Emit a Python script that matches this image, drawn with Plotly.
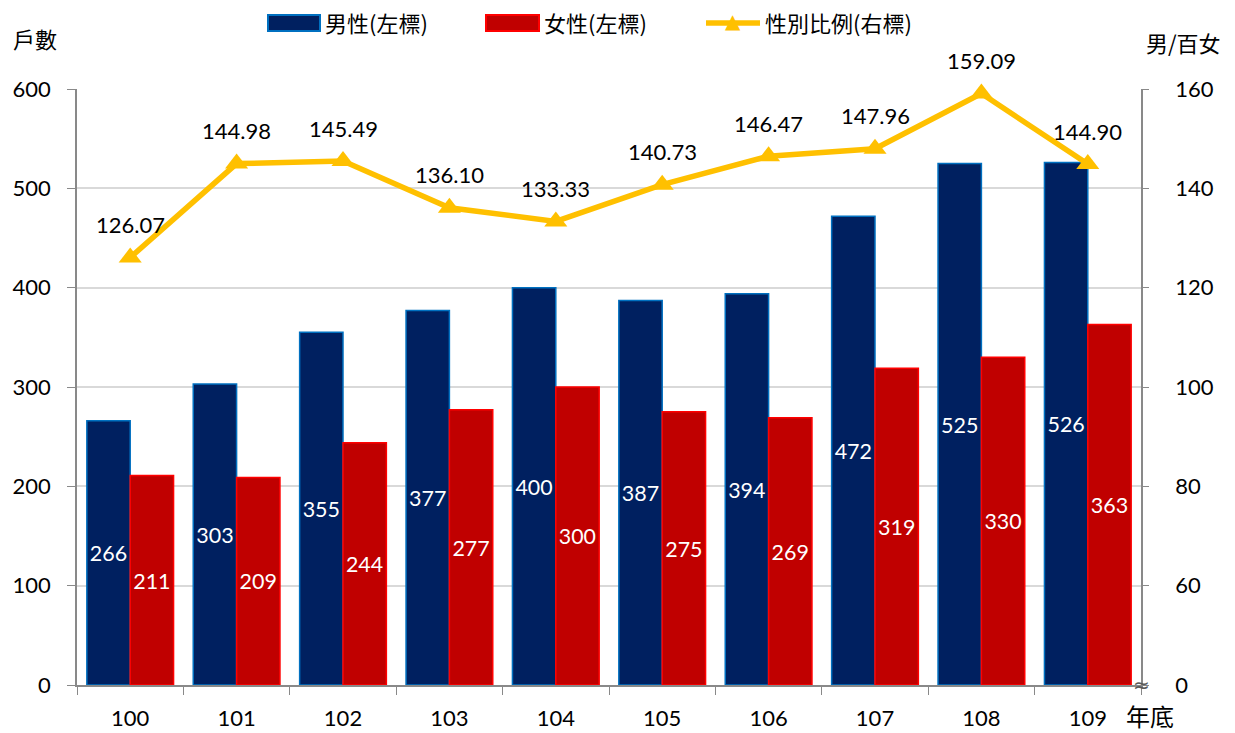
import plotly.graph_objects as go

years = ["100", "101", "102", "103", "104", "105", "106", "107", "108", "109"]
male = [266, 303, 355, 377, 400, 387, 394, 472, 525, 526]
female = [211, 209, 244, 277, 300, 275, 269, 319, 330, 363]
ratio = [126.07, 144.98, 145.49, 136.10, 133.33, 140.73, 146.47, 147.96, 159.09, 144.90]

left_ticks = [0, 100, 200, 300, 400, 500, 600]
right_tickvals = [40, 60, 80, 100, 120, 140, 160]
right_ticktext = ["0", "60", "80", "100", "120", "140", "160"]

NUM_FONT = "Lato, 'Noto Sans CJK TC', sans-serif"
CJK_FONT = "'Noto Sans CJK TC', sans-serif"

W, H = 1235, 733
ML, MR, MT, MB = 77, 94, 89, 48
PW, PH = W - ML - MR, H - MT - MB


def px(x):
    return (x - ML) / PW


def py(y):
    return (H - MB - y) / PH


fig = go.Figure()
fig.add_trace(go.Bar(
    x=years, y=male, name="男性(左標)",
    marker=dict(color="#002060", line=dict(color="#0070C0", width=1.5)),
    text=[str(v) for v in male], textposition="inside", insidetextanchor="middle",
    textfont=dict(color="white", size=22, family=NUM_FONT), textangle=0,
))
fig.add_trace(go.Bar(
    x=years, y=female, name="女性(左標)",
    marker=dict(color="#C00000", line=dict(color="#FF0000", width=1.5)),
    text=[str(v) for v in female], textposition="inside", insidetextanchor="middle",
    textfont=dict(color="white", size=22, family=NUM_FONT), textangle=0,
))
fig.add_trace(go.Scatter(
    x=years, y=ratio, name="性別比例(右標)", yaxis="y2",
    mode="lines+markers",
    line=dict(color="#FFC000", width=5.5),
    marker=dict(symbol="triangle-up", size=20, color="#FFC000"),
    cliponaxis=False,
))

# data labels for ratio line (category index on the x axis)
for i, v in enumerate(ratio):
    fig.add_annotation(x=i, y=v, xref="x", yref="y2", text=f"{v:.2f}",
                       showarrow=False, yshift=33, xanchor="center", yanchor="middle",
                       font=dict(family=NUM_FONT, size=22, color="black"))

fig.update_layout(
    width=W, height=H,
    margin=dict(l=ML, r=MR, t=MT, b=MB, autoexpand=False),
    plot_bgcolor="white", paper_bgcolor="white",
    barmode="group", bargap=0.185, bargroupgap=0,
    font=dict(family=NUM_FONT, size=22, color="black"),
    showlegend=False,
    xaxis=dict(
        type="category", range=[-0.5, 9.5], automargin=False,
        showline=True, linecolor="#898989", linewidth=1.5,
        ticks="outside", tickson="boundaries", ticklen=8, tickcolor="#898989",
        tickfont=dict(size=22, family=NUM_FONT),
        ticklabelstandoff=13,
        showgrid=False,
    ),
    yaxis=dict(
        range=[0, 600], tickvals=left_ticks, automargin=False,
        showline=True, linecolor="#898989", linewidth=1.5,
        ticks="outside", ticklen=8, tickcolor="#898989",
        showgrid=True, gridcolor="#D9D9D9", gridwidth=1.5,
        tickfont=dict(size=22, family=NUM_FONT),
        ticklabelstandoff=12, zeroline=False,
    ),
    yaxis2=dict(
        overlaying="y", side="right", range=[40, 160], automargin=False,
        tickvals=right_tickvals, ticktext=right_ticktext,
        showline=True, linecolor="#898989", linewidth=1.5,
        ticks="outside", ticklen=6, tickcolor="#898989",
        showgrid=False, zeroline=False,
        tickfont=dict(size=22, family=NUM_FONT),
        ticklabelstandoff=22,
    ),
)

# custom legend (wide swatches like the reference)
legend_items = [
    ("男性(左標)", "#002060", "#0070C0", 268, 320, "bar"),
    ("女性(左標)", "#C00000", "#FF0000", 486, 539, "bar"),
    ("性別比例(右標)", "#FFC000", "#FFC000", 706, 760, "line"),
]
LY = 23
for label, fill, edge, x0, x1, kind in legend_items:
    if kind == "bar":
        fig.add_shape(type="rect", xref="paper", yref="paper",
                      x0=px(x0), x1=px(x1), y0=py(LY + 8), y1=py(LY - 8),
                      fillcolor=fill, line=dict(color=edge, width=2))
    else:
        fig.add_shape(type="line", xref="paper", yref="paper",
                      x0=px(x0), x1=px(x1), y0=py(LY), y1=py(LY),
                      line=dict(color=fill, width=5.5))
        fig.add_annotation(text="▲", xref="paper", yref="paper", x=px((x0 + x1) / 2), y=py(LY - 2),
                           showarrow=False, xanchor="center", yanchor="middle",
                           font=dict(family="DejaVu Sans", size=20, color=fill))
    fig.add_annotation(text=label, xref="paper", yref="paper", x=px(x1 + 3), y=py(LY - 1),
                       showarrow=False, xanchor="left", yanchor="middle",
                       font=dict(family=CJK_FONT, size=22, color="black"))

fig.add_annotation(text="戶數", xref="paper", yref="paper", x=px(35), y=py(38),
                   xanchor="center", yanchor="middle", showarrow=False,
                   font=dict(family=CJK_FONT, size=22, color="black"))
fig.add_annotation(text="男/百女", xref="paper", yref="paper", x=px(1183), y=py(42),
                   xanchor="center", yanchor="middle", showarrow=False,
                   font=dict(family=CJK_FONT, size=22, color="black"))
fig.add_annotation(text="年底", xref="paper", yref="paper", x=px(1150), y=py(715),
                   xanchor="center", yanchor="middle", showarrow=False,
                   font=dict(family=CJK_FONT, size=24, color="black"))
fig.add_annotation(text="≈", xref="paper", yref="paper", x=1.0, y=0.0,
                   xanchor="center", yanchor="middle", showarrow=False,
                   font=dict(family="DejaVu Sans", size=20, color="#595959"))

fig.write_html("out.html", config={"displayModeBar": False},
               post_script="document.body.style.margin='0';")
